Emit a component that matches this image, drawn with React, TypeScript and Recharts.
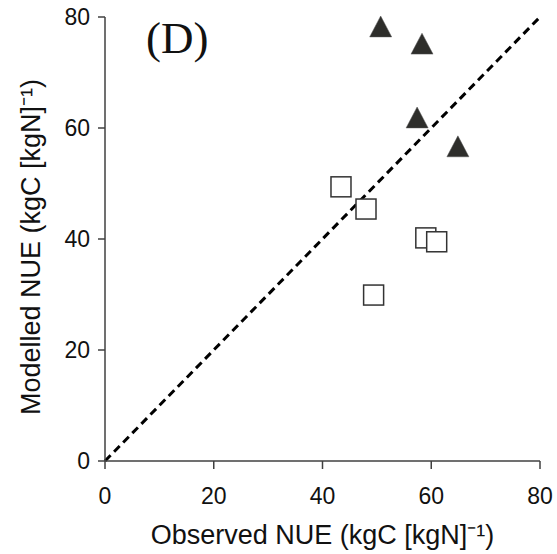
import {
  ReferenceLine,
  Scatter,
  ScatterChart,
  XAxis,
  YAxis,
  Label,
} from "recharts";

const modelledHigh = [
  { x: 50.7, y: 78.2 },
  { x: 58.3, y: 75.1 },
  { x: 57.4, y: 61.8 },
  { x: 64.9, y: 56.6 },
];

const modelledLow = [
  { x: 43.4, y: 49.4 },
  { x: 48.0, y: 45.4 },
  { x: 49.4, y: 29.9 },
  { x: 59.0, y: 40.2 },
  { x: 61.0, y: 39.5 },
];

const ticks = [0, 20, 40, 60, 80];
const oneToOne = [
  { x: 0, y: 0 },
  { x: 80, y: 80 },
];

const axisColor = "#404040";
const font = "'Liberation Sans', Arial, sans-serif";

const Triangle = (props: any) => {
  const { cx, cy } = props;
  const s = 11;
  return (
    <polygon
      points={`${cx},${cy - s} ${cx - s},${cy + s * 0.9} ${cx + s},${cy + s * 0.9}`}
      fill="#2e2e2b"
      stroke="#555"
      strokeWidth={0.5}
    />
  );
};

const Square = (props: any) => {
  const { cx, cy } = props;
  const s = 20;
  return (
    <rect
      x={cx - s / 2}
      y={cy - s / 2}
      width={s}
      height={s}
      fill="#fff"
      stroke="#333"
      strokeWidth={1.5}
    />
  );
};

export default function App() {
  return (
    <div style={{ position: "fixed", left: 0, top: 0, background: "#fff" }}>
      <ScatterChart
        width={557}
        height={554}
        margin={{ top: 17, right: 17, bottom: 0, left: 0 }}
      >
        <XAxis
          type="number"
          dataKey="x"
          domain={[0, 80]}
          ticks={ticks}
          height={93}
          stroke={axisColor}
          strokeWidth={1.5}
          tickSize={8}
          tickMargin={19}
          tick={{ fill: "#111", fontSize: 23, fontFamily: font }}
        >
          <Label
            value="Observed NUE (kgC [kgN]⁻¹)"
            position="insideBottom"
            offset={10}
            style={{ fill: "#111", fontSize: 27, fontFamily: font }}
          />
        </XAxis>
        <YAxis
          type="number"
          dataKey="y"
          domain={[0, 80]}
          ticks={ticks}
          width={105}
          stroke={axisColor}
          strokeWidth={1.5}
          tickSize={7}
          tickMargin={8}
          tick={{ fill: "#111", fontSize: 23, fontFamily: font }}
        >
          <Label
            value="Modelled NUE (kgC [kgN]⁻¹)"
            angle={-90}
            position="insideLeft"
            offset={30}
            dy={8}
            style={{ textAnchor: "middle", fill: "#111", fontSize: 27, fontFamily: font }}
          />
        </YAxis>
        <ReferenceLine
          segment={oneToOne}
          stroke="#000"
          strokeWidth={3}
          strokeDasharray="8 5"
          ifOverflow="visible"
        />
        <Scatter data={modelledLow} shape={Square} isAnimationActive={false} />
        <Scatter data={modelledHigh} shape={Triangle} isAnimationActive={false} />
        <text
          x={146}
          y={53}
          fontFamily="'Liberation Serif', 'Times New Roman', serif"
          fontSize={45}
          fill="#111"
        >
          (D)
        </text>
      </ScatterChart>
    </div>
  );
}
